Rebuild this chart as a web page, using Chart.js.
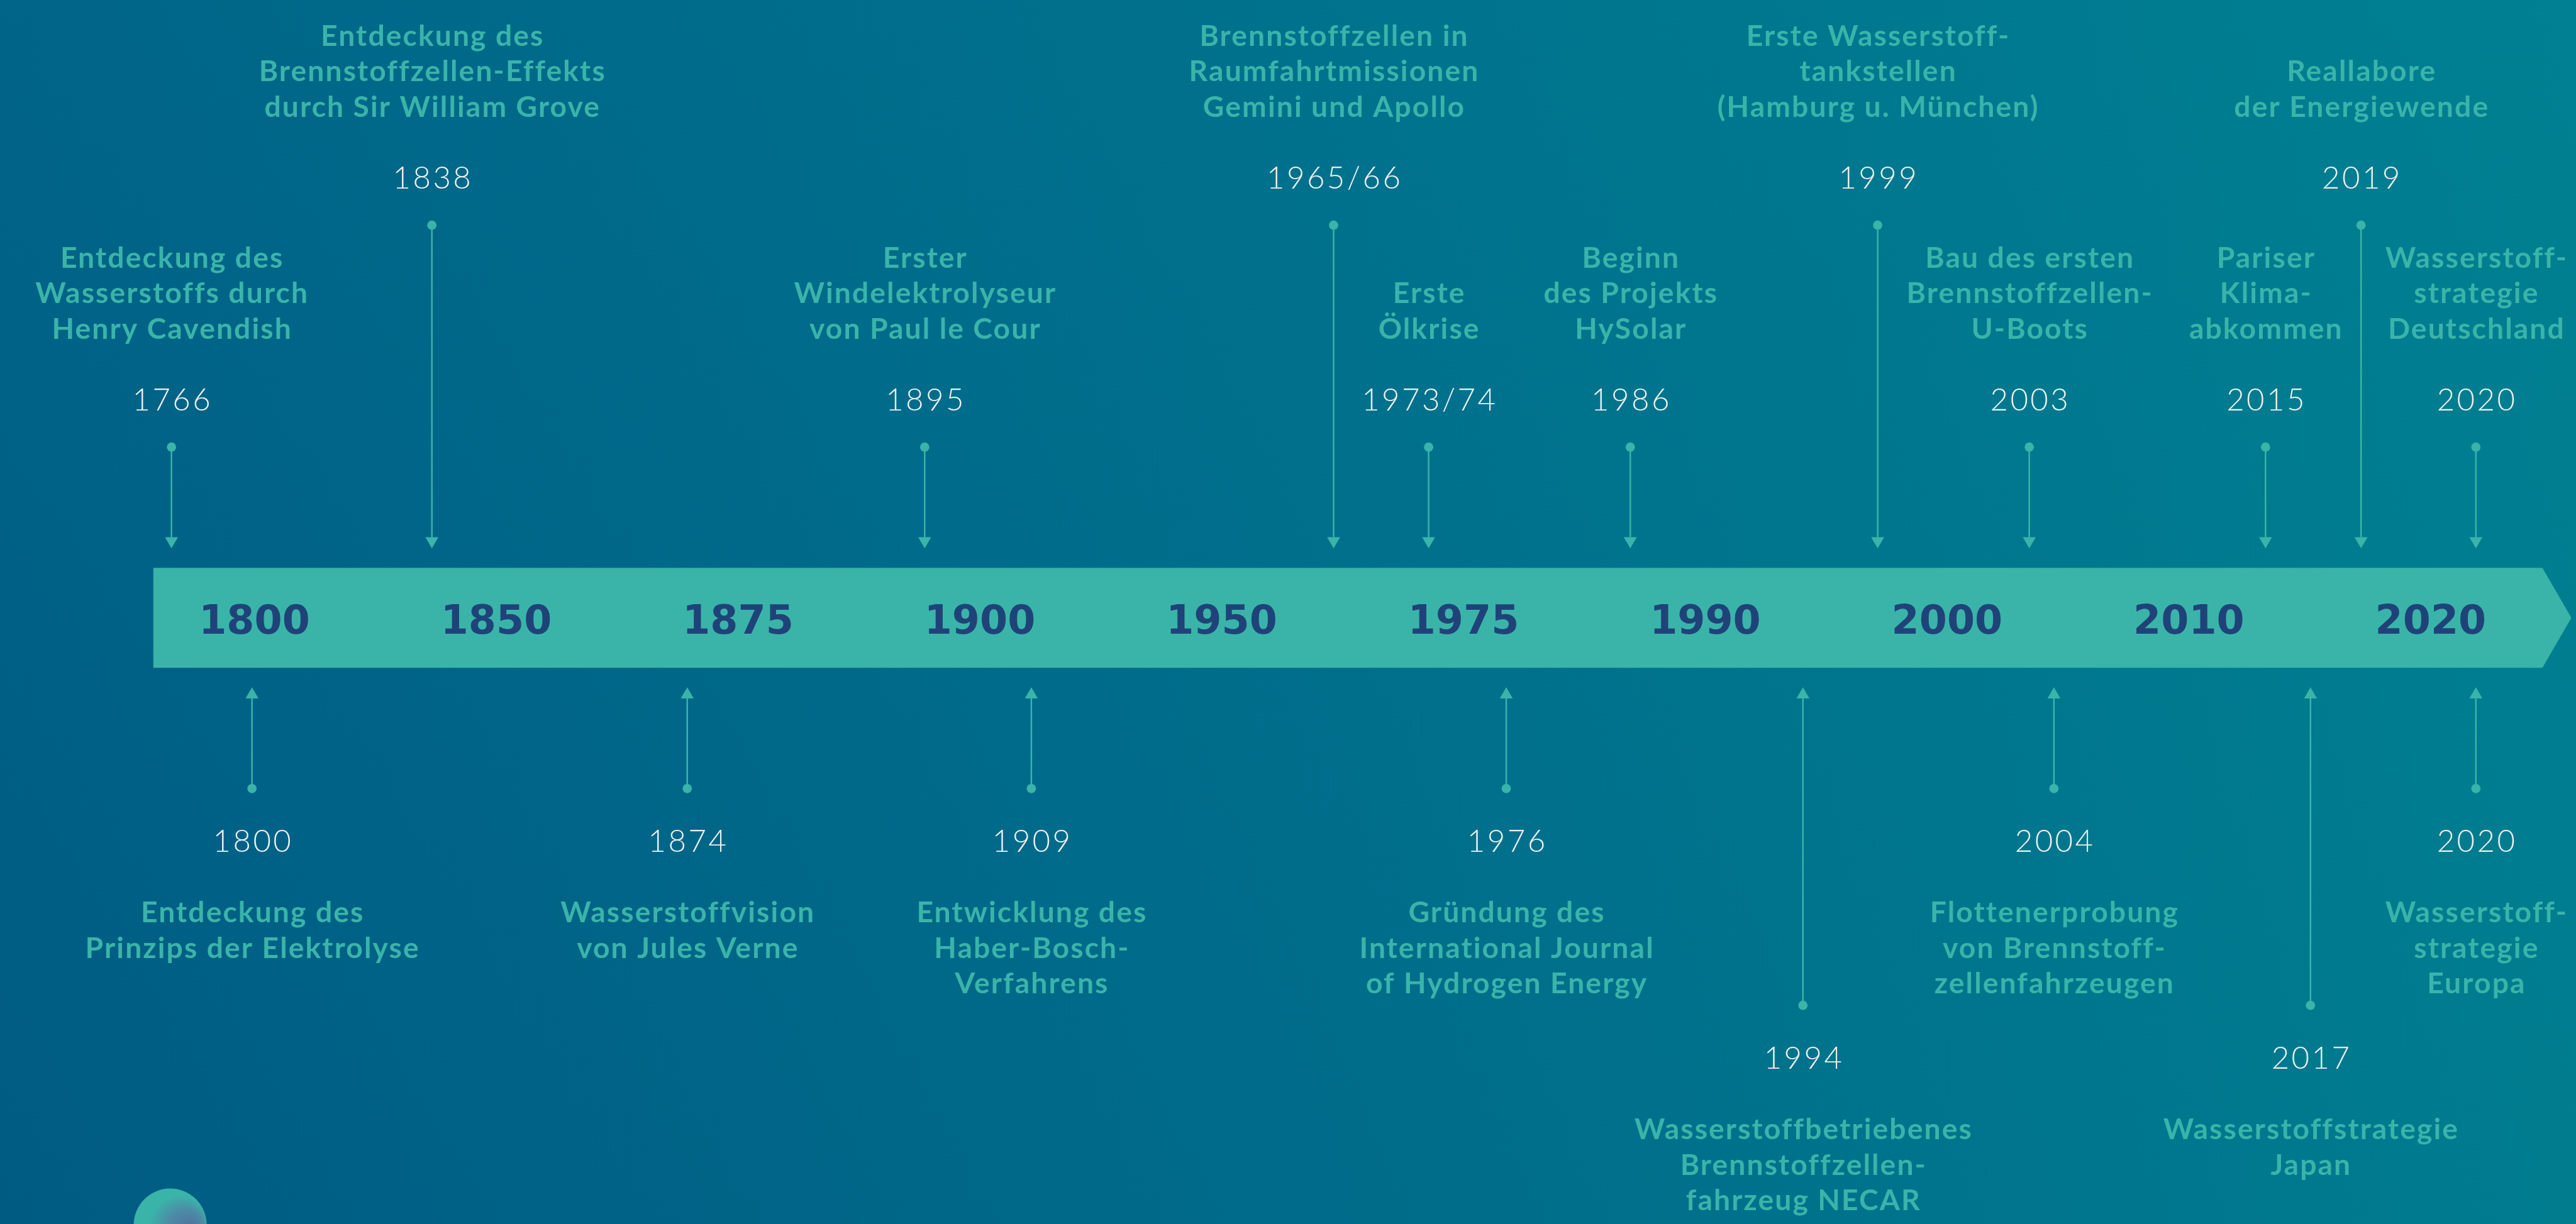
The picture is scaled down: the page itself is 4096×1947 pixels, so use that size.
<!DOCTYPE html>
<html>
<head>
<meta charset="utf-8">
<script src="https://cdn.jsdelivr.net/npm/chart.js@4.4.1/dist/chart.umd.min.js"></script>
<style>
  html, body { margin: 0; padding: 0; overflow: hidden; background: #006585; }
  #wrap { width: 4096px; height: 1947px; position: relative; }
</style>
</head>
<body>
<div id="wrap"><canvas id="timeline"></canvas></div>
<script>
// scale of this page against the reference artwork
const S = 4096 / 4162;

// labels inside the arrow bar (evenly spaced slots)
const tickLabels = ['1800', '1850', '1875', '1900', '1950', '1975', '1990', '2000', '2010', '2020'];

// events above the bar: position in slot units, level above the bar
const topYears = ['1766', '1838', '1895', '1965/66', '1973/74', '1986', '1999', '2003', '2015', '2019', '2020'];
const topPos = [-0.343, 0.734, 2.772, 4.463, 4.856, 5.690, 6.713, 7.340, 8.317, 8.712, 9.187];
const topLevel = [1, 2.3, 1, 2.3, 1, 1, 2.3, 1, 1, 2.3, 1];
const topTitles = [
  ['Entdeckung des', 'Wasserstoffs durch', 'Henry Cavendish'],
  ['Entdeckung des', 'Brennstoffzellen-Effekts', 'durch Sir William Grove'],
  ['Erster', 'Windelektrolyseur', 'von Paul le Cour'],
  ['Brennstoffzellen in', 'Raumfahrtmissionen', 'Gemini und Apollo'],
  ['Erste', 'Ölkrise'],
  ['Beginn', 'des Projekts', 'HySolar'],
  ['Erste Wasserstoff-', 'tankstellen', '(Hamburg u. München)'],
  ['Bau des ersten', 'Brennstoffzellen-', 'U-Boots'],
  ['Pariser', 'Klima-', 'abkommen'],
  ['Reallabore', 'der Energiewende'],
  ['Wasserstoff-', 'strategie', 'Deutschland']
];

// events below the bar
const bottomYears = ['1800', '1874', '1909', '1976', '1994', '2004', '2017', '2020'];
const bottomPos = [-0.010, 1.790, 3.213, 5.177, 6.404, 7.442, 8.503, 9.187];
const bottomLevel = [-1, -1, -1, -1, -2.27, -1, -2.27, -1];
const bottomTitles = [
  ['Entdeckung des', 'Prinzips der Elektrolyse'],
  ['Wasserstoffvision', 'von Jules Verne'],
  ['Entwicklung des', 'Haber-Bosch-', 'Verfahrens'],
  ['Gründung des', 'International Journal', 'of Hydrogen Energy'],
  ['Wasserstoffbetriebenes', 'Brennstoffzellen-', 'fahrzeug NECAR'],
  ['Flottenerprobung', 'von Brennstoff-', 'zellenfahrzeugen'],
  ['Wasserstoffstrategie', 'Japan'],
  ['Wasserstoff-', 'strategie', 'Europa']
];

const TEAL = '#3ab4a9';
const NAVY = '#1f4379';
const YEAR_COLOR = '#eef1ef';
const titleFont = `700 ${47 * S}px Lato`;
const yearFont = `300 ${50 * S}px Lato`;
const titleSpacing = 2.1;
const yearSpacing = 3.4;

const topPoints = topPos.map((p, i) => ({x: p, y: topLevel[i]}));
const bottomPoints = bottomPos.map((p, i) => ({x: p, y: bottomLevel[i]}));

function drawArrow(ctx, x, yFrom, yTo) {
  const dir = yTo > yFrom ? 1 : -1;
  const head = 18 * S, half = 10.5 * S;
  ctx.beginPath();
  ctx.moveTo(x, yFrom);
  ctx.lineTo(x, yTo - dir * head);
  ctx.stroke();
  ctx.beginPath();
  ctx.moveTo(x - half, yTo - dir * head);
  ctx.lineTo(x + half, yTo - dir * head);
  ctx.lineTo(x, yTo);
  ctx.closePath();
  ctx.fill();
}

function spacedText(ctx, text, x, y, spacing) {
  ctx.letterSpacing = spacing + 'px';
  ctx.fillText(text, x + spacing / 2, y);
}

const timelinePlugin = {
  id: 'timeline',
  beforeDraw(chart) {
    const {ctx, width, height} = chart;
    const {x, y} = chart.scales;
    ctx.save();
    // background
    const bg = ctx.createLinearGradient(0, 0, width, 0);
    bg.addColorStop(0, '#005b83');
    bg.addColorStop(0.5, '#006b8a');
    bg.addColorStop(1, '#007c8f');
    ctx.fillStyle = bg;
    ctx.fillRect(0, 0, width, height);
    const shade = ctx.createLinearGradient(0, 0, 0, height);
    shade.addColorStop(0, 'rgba(0, 150, 160, 0.16)');
    shade.addColorStop(1, 'rgba(0, 150, 160, 0)');
    ctx.fillStyle = shade;
    ctx.fillRect(0, 0, width, height);

    // small sphere in the lower left corner
    const cx = 275 * S, cy = 1980 * S, r = 59 * S;
    const sg = ctx.createRadialGradient(cx + 38 * S, cy + 8 * S, 0, cx + 10 * S, cy, r * 1.05);
    sg.addColorStop(0, '#4f6f9c');
    sg.addColorStop(0.45, '#4d8aa6');
    sg.addColorStop(0.8, TEAL);
    sg.addColorStop(1, TEAL);
    ctx.fillStyle = sg;
    ctx.beginPath();
    ctx.arc(cx, cy, r, 0, Math.PI * 2);
    ctx.fill();

    // arrow shaped bar
    const left = x.getPixelForValue(-0.418);
    const right = x.getPixelForValue(9.462);
    const tip = x.getPixelForValue(x.max);
    const top = y.getPixelForValue(0.293);
    const bot = y.getPixelForValue(-0.293);
    const mid = y.getPixelForValue(0);
    ctx.fillStyle = TEAL;
    ctx.beginPath();
    ctx.moveTo(left, top);
    ctx.lineTo(right, top);
    ctx.lineTo(tip, mid);
    ctx.lineTo(right, bot);
    ctx.lineTo(left, bot);
    ctx.closePath();
    ctx.fill();
    ctx.restore();
  },
  beforeDatasetsDraw(chart) {
    const {ctx} = chart;
    const {x, y} = chart.scales;
    ctx.save();
    ctx.strokeStyle = TEAL;
    ctx.fillStyle = TEAL;
    ctx.lineWidth = 2.5 * S;
    topPoints.forEach(p => {
      drawArrow(ctx, x.getPixelForValue(p.x), y.getPixelForValue(p.y), y.getPixelForValue(0.407));
    });
    bottomPoints.forEach(p => {
      drawArrow(ctx, x.getPixelForValue(p.x), y.getPixelForValue(p.y), y.getPixelForValue(-0.407));
    });
    ctx.restore();
  },
  afterDatasetsDraw(chart) {
    const {ctx} = chart;
    const {x, y} = chart.scales;
    ctx.save();
    ctx.textAlign = 'center';
    ctx.textBaseline = 'alphabetic';
    const lh = 57.4 * S;

    topPoints.forEach((p, i) => {
      const px = x.getPixelForValue(p.x);
      const yearBase = y.getPixelForValue(p.y) - 59 * S;
      ctx.font = yearFont;
      ctx.fillStyle = YEAR_COLOR;
      spacedText(ctx, topYears[i], px, yearBase, yearSpacing);
      ctx.font = titleFont;
      ctx.fillStyle = TEAL;
      const lines = topTitles[i];
      const lastBase = yearBase - 116 * S;
      lines.forEach((t, j) => {
        spacedText(ctx, t, px, lastBase - (lines.length - 1 - j) * lh, titleSpacing);
      });
    });

    bottomPoints.forEach((p, i) => {
      const px = x.getPixelForValue(p.x);
      const yearBase = y.getPixelForValue(p.y) + 102 * S;
      ctx.font = yearFont;
      ctx.fillStyle = YEAR_COLOR;
      spacedText(ctx, bottomYears[i], px, yearBase, yearSpacing);
      ctx.font = titleFont;
      ctx.fillStyle = TEAL;
      const firstBase = yearBase + 114.5 * S;
      bottomTitles[i].forEach((t, j) => {
        spacedText(ctx, t, px, firstBase + j * lh, titleSpacing);
      });
    });
    ctx.restore();
  }
};

new Chart(document.getElementById('timeline'), {
  type: 'scatter',
  data: {
    datasets: [
      {label: 'oben', data: topPoints},
      {label: 'unten', data: bottomPoints}
    ]
  },
  options: {
    responsive: true,
    maintainAspectRatio: false,
    animation: false,
    events: [],
    layout: {padding: 0},
    elements: {
      point: {radius: 7.5 * S, backgroundColor: TEAL, borderWidth: 0, pointStyle: 'circle'}
    },
    plugins: {
      legend: {display: false},
      tooltip: {enabled: false}
    },
    scales: {
      x: {
        type: 'linear',
        min: -1.0329,
        max: 9.5818,
        position: {y: 0},
        afterBuildTicks: axis => { axis.ticks = tickLabels.map((_, i) => ({value: i})); },
        grid: {display: false, drawTicks: false},
        border: {display: false},
        ticks: {
          autoSkip: false,
          maxRotation: 0,
          padding: 9 * S - 32,
          color: NAVY,
          font: {family: '"DejaVu Sans"', size: 64.5 * S, weight: 'bold', lineHeight: 1},
          callback: v => tickLabels[Math.round(v)]
        }
      },
      y: {
        type: 'linear',
        display: false,
        min: -3.5234,
        max: 3.5917
      }
    }
  },
  plugins: [timelinePlugin]
});
</script>
</body>
</html>
